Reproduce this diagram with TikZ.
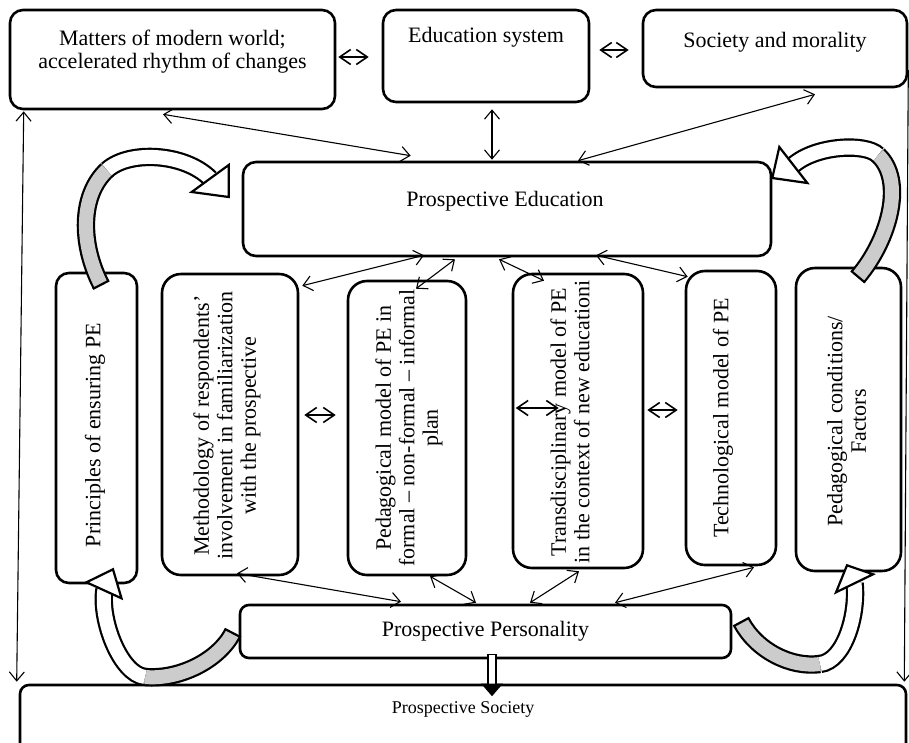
\documentclass[tikz,border=0pt]{standalone}
\usepackage{fontspec}
\setmainfont{Liberation Serif}
\usetikzlibrary{arrows.meta}
\usetikzlibrary{positioning}
\usetikzlibrary{calc}

\definecolor{backgray}{RGB}{204,204,204}

\tikzset{
  box/.style = {draw, line width=2.6pt, rounded corners=13pt, inner sep=0pt},
  midbox/.style = {box, rounded corners=19pt},
  vtext/.style = {rotate=90, align=center, inner sep=0pt},
  arrowlink/.style = {line width=1.1pt, {Straight Barb[length=9pt,width=15pt]}-{Straight Barb[length=9pt,width=15pt]}},
  shortlink/.style = {line width=1.6pt, {Straight Barb[length=11pt,width=15pt]}-{Straight Barb[length=11pt,width=15pt]}},
  bendband/.style = {line width=2.2pt, double=#1, double distance=14pt},
  bandhead/.style = {fill=white, draw, line width=2.2pt, line join=miter},
}

\begin{document}
\begin{tikzpicture}[x=1pt, y=-1pt, font=\fontsize{22}{23.5}\selectfont]
	\useasboundingbox (0,0) rectangle (909,742);
	\clip (0,0) rectangle (909,742);

	% top row
	\node[box, minimum width=325pt, minimum height=99pt] (world) at (172.5,59.5) {};
	\node[box, minimum width=206pt, minimum height=92pt] (edsys) at (486,56) {};
	\node[box, minimum width=264pt, minimum height=77pt] (society) at (775,48.5) {};
	\node[align=center, inner sep=0pt] (world-t) at ($(world.north)+(0,43)$) {Matters of modern world;\\accelerated rhythm of changes};
	\node[inner sep=0pt] (edsys-t) at ($(edsys.north)+(0,29)$) {Education system};
	\node[inner sep=0pt] (society-t) at ($(society.north)+(0,34)$) {Society and morality};

	% centre
	\node[box, minimum width=528pt, minimum height=94pt] (pe) at (507,209) {};
	\node[inner sep=0pt] (pe-t) at ($(pe.center)+(-2,-8)$) {Prospective Education};

	\node[box, minimum width=81pt, minimum height=310pt] (principles) at (96.5,428) {};
	\node[midbox, minimum width=136pt, minimum height=301pt] (method) at (230,424.5) {};
	\node[midbox, minimum width=118pt, minimum height=294pt] (pedmodel) at (407,428) {};
	\node[midbox, minimum width=130pt, minimum height=294pt] (trans) at (578,421) {};
	\node[midbox, minimum width=90pt, minimum height=294pt] (tech) at (731,418) {};
	\node[midbox, minimum width=105pt, minimum height=303pt] (factors) at (848.5,419.5) {};

	\node[vtext] (principles-t) at ($(principles.center)+(-1.5,7)$) {Principles of ensuring PE};
	\node[vtext] (method-t) at ($(method.center)+(-3,1)$) {Methodology of respondents'\\involvement in familiarization\\with the prospective};
	\node[vtext] (pedmodel-t) at ($(pedmodel.center)+(2,0)$) {Pedagogical model of PE in\\formal -- non-formal -- informal\\plan};
	\node[vtext] (trans-t) at ($(trans.center)+(-8,1)$) {Transdisciplinary model of PE\\in the context of new educationi};
	\node[vtext] (tech-t) at ($(tech.center)+(-8,0)$) {Technological model of PE};
	\node[vtext] (factors-t) at ($(factors.center)+(-2,2)$) {Pedagogical conditions/\\Factors};

	% bottom
	\node[box, rounded corners=9pt, minimum width=491pt, minimum height=53pt] (person) at (485.5,631.5) {Prospective Personality};
	\node[box, rounded corners=9pt, minimum width=886pt, minimum height=74pt] (psociety) at (463,722) {};
	\node[inner sep=0pt, font=\fontsize{18}{21}\selectfont] (psociety-t) at ($(psociety.north)+(0,26)$) {Prospective Society};

	% thin links
	\draw[arrowlink] ($(world.south)+(-9.5,4)$) -- ($(pe.north west)+(169,-5)$);
	\draw[arrowlink] ($(edsys.south)+(6,6)$) -- ($(pe.north)+(-15,-1)$);
	\draw[arrowlink] ($(society.south)+(40,6)$) -- ($(pe.north)+(71,0)$);
	\draw[arrowlink] ($(pe.south)+(-83,-2)$) -- ($(method.north east)+(3,13)$);
	\draw[arrowlink] ($(pe.south)+(-52,2)$) -- ($(pedmodel.north)+(9,9)$);
	\draw[arrowlink] ($(pe.south)+(-8,2)$) -- ($(trans.north)+(-34,8)$);
	\draw[arrowlink] ($(pe.south)+(89,-2)$) -- ($(tech.north west)+(3,7)$);
	\draw[arrowlink] ($(method.south)+(7,-3)$) -- ($(person.north)+(-84.5,-2)$);
	\draw[arrowlink] ($(pedmodel.south)+(23,0)$) -- ($(person.north)+(-9.5,-1)$);
	\draw[arrowlink] ($(trans.south)+(1,2)$) -- ($(person.north)+(44.5,-1)$);
	\draw[arrowlink] ($(tech.south)+(23,1)$) -- ($(person.north)+(129.5,-1)$);
	\draw[arrowlink] ($(world.south west)+(15,1)$) -- ($(psociety.north west)+(-2,-2)$);
	\draw[line width=1.1pt, -{Straight Barb[length=9pt,width=15pt]}] ($(society.east)+(0,21.5)$) -- ($(psociety.north east)+(-3,-2)$);

	% short double arrows
	\draw[shortlink] ($(world.east)+(2,-2.5)$) -- ($(edsys.west)+(-13,1)$);
	\draw[shortlink] ($(edsys.east)+(9,-6)$) -- ($(society.west)+(-13,1.5)$);
	\draw[shortlink] ($(method.east)+(5,-9.5)$) -- ($(pedmodel.west)+(-11,-13)$);
	\draw[shortlink] ($(trans.west)+(4,-13)$) -- ($(trans.west)+(47,-13)$);
	\draw[shortlink] ($(trans.east)+(3,-11)$) -- ($(tech.west)+(-7,-8)$);

	% personality to society
	\draw[fill=white, line width=1.5pt] ($(person.south)+(2.5,-5)$) -- ++(0,30) -- ++(8,0) -- ++(0,-30) -- cycle;
	\filldraw[line width=1.2pt, line join=miter] ($(person.south)+(-3,25)$) -- ++(19,0) -- ++(-9.5,11) -- cycle;

	% bent arrow: principles to education
	\coordinate (tA) at ($(principles.north)+(4.5,13)$);
	\coordinate (jA) at (107,170);
	\coordinate (hA) at ($(pe.west)+(-31.5,-30.5)$);
	\draw[bendband=backgray] (tA) .. controls +(-21,-41) and +(-27,25) .. (jA);
	\draw[bendband=white] (jA) .. controls +(22,-20) and +(-25.5,-25.5) .. (hA);
	\draw[line width=2.2pt] ($(tA)+(8.1,-4.2)$) -- ($(tA)+(-8.1,4.2)$);
	\draw[bandhead] ($(hA)+(18.5,-13.5)$) -- ($(hA)+(18.5,18.5)$) -- ($(hA)+(-18.5,13.5)$) -- cycle;

	% bent arrow: factors to education
	\coordinate (tB) at ($(factors.north)+(9.5,10)$);
	\coordinate (jB) at (878,155);
	\coordinate (hB) at ($(pe.east)+(21,-44)$);
	\draw[bendband=backgray] (tB) .. controls +(32,-38) and +(27,25) .. (jB);
	\draw[bendband=white] (jB) .. controls +(-12,-12) and +(23,-20) .. (hB);
	\draw[line width=2.2pt] ($(tB)+(7,5.9)$) -- ($(tB)+(-7,-5.9)$);
	\draw[bandhead] ($(hB)+(-14,-18)$) -- ($(hB)+(-21,13)$) -- ($(hB)+(14,18)$) -- cycle;

	% bent arrow: personality to principles
	\coordinate (tC) at ($(person.west)+(-6,1.5)$);
	\coordinate (jC) at (145,677);
	\coordinate (hC) at ($(principles.south)+(8,5)$);
	\draw[bendband=backgray] (tC) .. controls +(-14,27) and +(35,3) .. (jC);
	\draw[bendband=white] (jC) .. controls +(-25,-3) and +(-5,30) .. (hC);
	\draw[line width=2.2pt] ($(tC)+(8.1,4.2)$) -- ($(tC)+(-8.1,-4.2)$);
	\draw[bandhead] ($(hC)+(-18,-7)$) -- ($(hC)+(8.5,-20)$) -- ($(hC)+(17,9)$) -- cycle;

	% bent arrow: personality to factors
	\coordinate (tD) at ($(person.east)+(9,-9.5)$);
	\coordinate (jD) at (820,664);
	\coordinate (hD) at ($(factors.south)+(6,11)$);
	\draw[bendband=backgray] (tD) .. controls +(15,28) and +(-30,4) .. (jD);
	\draw[bendband=white] (jD) .. controls +(25,-3) and +(3.5,30) .. (hD);
	\draw[line width=2.2pt] ($(tD)+(8,-4.3)$) -- ($(tD)+(-8,4.3)$);
	\draw[bandhead] ($(hD)+(-18.5,9)$) -- ($(hD)+(-7.5,-18)$) -- ($(hD)+(18.5,-9)$) -- cycle;
\end{tikzpicture}
\end{document}
